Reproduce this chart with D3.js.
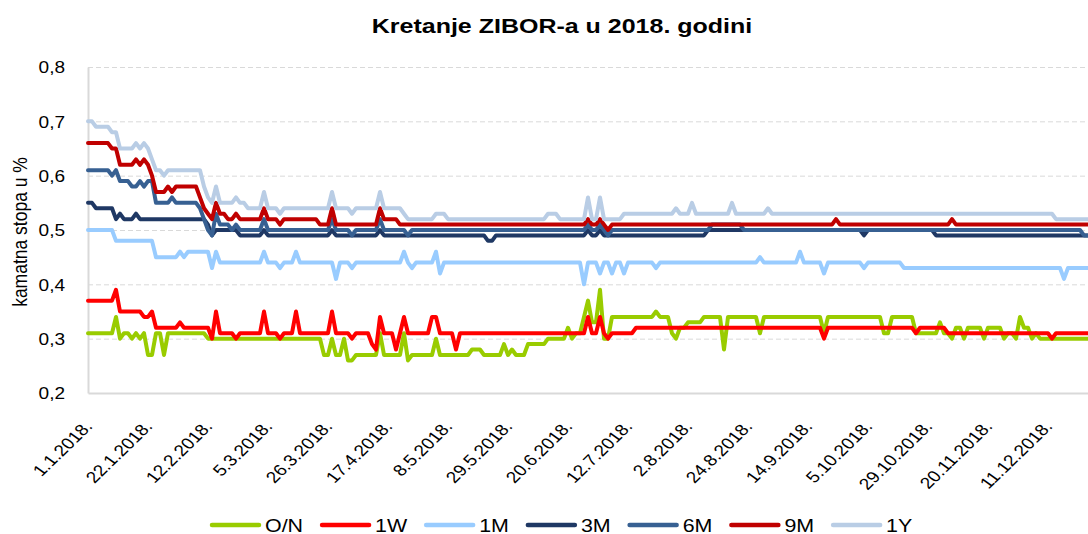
<!DOCTYPE html>
<html>
<head>
<meta charset="utf-8">
<script src="https://cdn.jsdelivr.net/npm/d3@7"></script>
<style>
	body { margin: 0; background: #fff; }
	svg { display: block; }
</style>
</head>
<body>
<div id="chart"></div>
<script>
// x axis: trading days of 2018, a label every 15th day
var dayCount = 251;
var tickLabels = ["1.1.2018.", "22.1.2018.", "12.2.2018.", "5.3.2018.", "26.3.2018.", "17.4.2018.",
	"8.5.2018.", "29.5.2018.", "20.6.2018.", "12.7.2018.", "2.8.2018.", "24.8.2018.", "14.9.2018.",
	"5.10.2018.", "29.10.2018.", "20.11.2018.", "11.12.2018."];
var yTicks = [0.2, 0.3, 0.4, 0.5, 0.6, 0.7, 0.8];

var seriesNames = ["O/N", "1W", "1M", "3M", "6M", "9M", "1Y"];
var seriesColors = ["#99cc00", "#ff0000", "#99ccff", "#1f3864", "#376092", "#c00000", "#b9cde5"];

// rate changes: [day index, rate] - the rate holds until the next change
var onSteps = [[0,.31],[7,.34],[8,.30],[9,.31],[11,.30],[12,.31],[13,.30],[14,.31],[15,.27],[17,.31],[19,.27],[20,.31],
	[30,.30],[59,.27],[61,.30],[62,.27],[64,.30],[65,.26],[67,.27],[73,.31],[74,.27],[79,.31],[80,.26],[81,.27],
	[87,.30],[88,.27],[96,.28],[99,.27],[104,.29],[105,.27],[106,.28],[107,.27],[110,.29],[115,.30],[120,.32],
	[121,.30],[122,.31],[124,.34],[125,.37],[126,.33],[128,.39],[129,.30],[131,.34],[142,.35],[143,.34],[146,.31],
	[147,.30],[148,.32],[150,.33],[154,.34],[159,.28],[160,.34],[168,.31],[169,.34],[184,.31],[185,.34],[199,.31],
	[201,.34],[207,.31],[213,.33],[214,.31],[216,.30],[217,.32],[219,.30],[220,.32],[224,.30],[225,.32],[229,.30],
	[230,.31],[232,.30],[233,.34],[234,.32],[236,.30],[237,.31],[238,.30]];
var w1Steps = [[0,.37],[7,.39],[8,.35],[14,.34],[16,.35],[17,.32],[23,.33],[24,.32],[31,.30],[32,.35],[33,.31],
	[37,.30],[38,.31],[44,.35],[45,.31],[48,.30],[49,.31],[52,.35],[53,.31],[61,.35],[62,.31],[66,.30],[67,.31],
	[71,.29],[72,.28],[73,.34],[74,.31],[77,.28],[78,.31],[79,.34],[80,.31],[86,.34],[88,.31],[92,.28],[93,.31],
	[125,.34],[126,.31],[128,.34],[129,.31],[130,.30],[131,.31],[137,.32],[184,.30],[185,.32],[207,.31],[208,.32],
	[215,.31],[241,.30],[242,.31]];
var m1Steps = [[0,.50],[7,.48],[17,.45],[23,.46],[24,.45],[25,.46],[31,.43],[32,.46],[33,.44],[44,.46],[45,.44],
	[48,.43],[49,.44],[52,.46],[53,.44],[62,.41],[63,.44],[66,.43],[67,.44],[79,.46],[80,.44],[81,.43],[82,.44],
	[87,.46],[88,.42],[89,.44],[124,.40],[125,.44],[128,.42],[129,.44],[131,.42],[132,.44],[134,.42],[135,.44],
	[142,.43],[143,.44],[168,.45],[169,.44],[178,.46],[179,.44],[184,.42],[185,.44],[194,.43],[195,.44],[204,.43],
	[244,.41],[245,.43]];
var m3Steps = [[0,.55],[2,.54],[7,.52],[8,.53],[9,.52],[12,.53],[13,.52],[30,.51],[31,.49],[32,.50],[38,.49],
	[44,.50],[45,.49],[61,.50],[62,.49],[73,.50],[74,.49],[100,.48],[102,.49],[125,.50],[126,.49],[128,.50],
	[129,.49],[155,.50],[194,.49],[195,.50],[212,.49]];
var m6Steps = [[0,.61],[6,.60],[7,.61],[8,.59],[11,.58],[13,.59],[14,.58],[15,.59],[17,.55],[21,.56],[22,.55],
	[28,.54],[29,.52],[30,.50],[31,.49],[32,.53],[33,.51],[36,.50],[37,.51],[38,.50],[44,.52],[45,.50],[61,.52],
	[62,.50],[66,.49],[67,.50],[73,.52],[74,.50],[80,.49],[81,.50],[125,.51],[126,.50],[128,.51],[129,.50],
	[130,.49],[131,.50],[156,.51],[164,.50],[249,.49]];
var m9Steps = [[0,.66],[6,.65],[8,.62],[12,.63],[13,.62],[14,.63],[15,.62],[16,.60],[17,.57],[20,.58],[21,.57],
	[22,.58],[28,.56],[29,.54],[30,.53],[31,.52],[32,.55],[33,.53],[35,.52],[37,.53],[38,.52],[44,.54],[45,.52],
	[48,.51],[49,.52],[58,.51],[61,.54],[62,.51],[73,.54],[74,.52],[78,.51],[125,.52],[126,.51],[128,.52],
	[129,.51],[130,.50],[131,.51],[187,.52],[188,.51],[216,.52],[217,.51]];
var y1Steps = [[0,.70],[2,.69],[6,.68],[8,.65],[12,.66],[13,.65],[14,.66],[15,.65],[16,.63],[17,.61],[19,.60],
	[20,.61],[29,.58],[30,.56],[31,.55],[32,.58],[33,.55],[37,.56],[38,.55],[40,.54],[44,.57],[45,.54],[48,.53],
	[49,.54],[61,.57],[62,.54],[66,.53],[67,.54],[73,.57],[74,.54],[79,.53],[80,.52],[87,.53],[90,.52],[115,.53],
	[118,.52],[125,.56],[126,.52],[128,.56],[129,.52],[134,.53],[147,.54],[148,.53],[151,.55],[152,.53],[161,.55],
	[162,.53],[170,.54],[171,.53],[242,.52]];

var allSteps = [onSteps, w1Steps, m1Steps, m3Steps, m6Steps, m9Steps, y1Steps];

// one value per trading day
function expand(steps) {
	var out = [];
	var k = 0;
	for (var i = 0; i < dayCount; i++) {
		while (k + 1 < steps.length && steps[k + 1][0] <= i) k++;
		out.push(steps[k][1]);
	}
	return out;
}

var series = allSteps.map(function(s, j) {
	return { name: seriesNames[j], color: seriesColors[j], values: expand(s) };
});

var svgWidth = 1088, svgHeight = 534;
var stretch = 1.19; // the picture is a bit wider than the original chart
var font = "'Liberation Sans', Arial, sans-serif";
var plotLeft = 88, plotRight = 1088, plotTop = 67, plotBottom = 393;

var x = d3.scaleLinear().domain([0, dayCount - 1]).range([plotLeft, plotRight]);
var y = d3.scaleLinear().domain([0.2, 0.8]).range([plotBottom, plotTop]);
var comma = d3.formatLocale({ decimal: ",", thousands: ".", grouping: [3], currency: ["", " kn"] }).format(".1f");

var svg = d3.select("#chart")
	.append("svg")
	.attr("width", svgWidth)
	.attr("height", svgHeight)
	.style("font-family", font);

//title
svg.append("text")
	.attr("transform", "translate(562,33) scale(" + stretch + ",1)")
	.attr("text-anchor", "middle")
	.style("font-size", "21px")
	.style("font-weight", "bold")
	.text("Kretanje ZIBOR-a u 2018. godini");

//y axis + grid
var yAxis = svg.append("g")
	.attr("transform", "translate(" + plotLeft + ",0)")
	.call(d3.axisLeft(y).tickValues(yTicks).tickFormat(comma).tickSize(-(plotRight - plotLeft)).tickSizeOuter(0));

yAxis.select(".domain").attr("stroke", "#d9d9d9").attr("stroke-width", 2);
yAxis.selectAll(".tick line")
	.attr("stroke", "#d9d9d9")
	.attr("stroke-dasharray", "5,3")
	.attr("opacity", d => d === 0.2 ? 0 : 1);
yAxis.selectAll(".tick text")
	.attr("x", null)
	.attr("dy", "0.36em")
	.attr("transform", "translate(-23,0) scale(" + stretch + ",1)")
	.attr("text-anchor", "end")
	.attr("fill", "#000")
	.style("font-family", font)
	.style("font-size", "16px");

svg.append("text")
	.attr("transform", "translate(27,232) scale(" + stretch + ",1) rotate(-90)")
	.attr("text-anchor", "middle")
	.style("font-size", "17.5px")
	.text("kamatna stopa u %");

//x axis
var xAxis = svg.append("g")
	.attr("transform", "translate(0," + plotBottom + ")")
	.call(d3.axisBottom(x)
		.tickValues(d3.range(0, tickLabels.length * 15, 15))
		.tickFormat((d, i) => tickLabels[i])
		.tickSize(0)
		.tickSizeOuter(0));

xAxis.select(".domain").attr("stroke", "#d9d9d9").attr("stroke-width", 2);
xAxis.selectAll(".tick text")
	.attr("y", null)
	.attr("dy", null)
	.attr("transform", "translate(5,34) scale(" + stretch + ",1) rotate(-49)")
	.attr("text-anchor", "end")
	.attr("fill", "#000")
	.style("font-family", font)
	.style("font-size", "16px");

//lines
var line = d3.line()
	.x((d, i) => x(i))
	.y(d => y(d));

svg.append("g")
	.selectAll("path")
	.data(series)
	.enter()
	.append("path")
	.attr("d", d => line(d.values))
	.attr("fill", "none")
	.attr("stroke", d => d.color)
	.attr("stroke-width", 4)
	.attr("stroke-linejoin", "round")
	.attr("stroke-linecap", "round");

//legend
var legend = svg.append("g").attr("class", "legend");
var lx = 210, ly = 525;
series.forEach(function(s) {
	legend.append("line")
		.attr("x1", lx + 2)
		.attr("x2", lx + 49)
		.attr("y1", ly)
		.attr("y2", ly)
		.attr("stroke", s.color)
		.attr("stroke-width", 4.5)
		.attr("stroke-linecap", "round");
	var t = legend.append("text")
		.attr("transform", "translate(" + (lx + 55) + "," + (ly + 6.5) + ") scale(" + stretch + ",1)")
		.style("font-size", "18px")
		.text(s.name);
	lx += 55 + t.node().getComputedTextLength() * stretch + 17;
});
</script>
</body>
</html>
